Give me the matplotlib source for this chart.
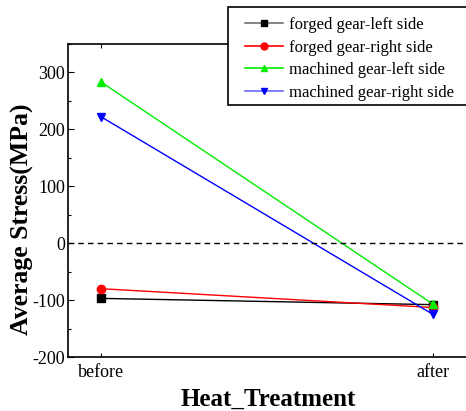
import matplotlib
matplotlib.use("Agg")
import matplotlib.pyplot as plt
from matplotlib.patches import Rectangle
from matplotlib.ticker import MultipleLocator

plt.rcParams['font.family'] = ['Liberation Serif', 'DejaVu Serif']
plt.rcParams['axes.unicode_minus'] = False

# ------------------------
# DATA
# ------------------------
stages = ["before", "after"]
forged_left = [-97, -108]
forged_right = [-80, -113]
machined_left = [283, -107]
machined_right = [222, -125]

series = [
    ("forged gear-left side", forged_left, "black", "#707070", "s"),
    ("forged gear-right side", forged_right, "red", "red", "o"),
    ("machined gear-left side", machined_left, "#00ee00", "#00ee00", "^"),
    ("machined gear-right side", machined_right, "blue", "#6a6aff", "v"),
]

W, H = 466, 411
fig = plt.figure(figsize=(W / 100, H / 100), dpi=100)
ax = fig.add_axes([68 / W, 1 - 357 / H, 1 - 68 / W, (357 - 44) / H])

xs = list(range(len(stages)))
handles = []
for name, vals, col, legcol, mk in series:
    ax.plot(xs, vals, color=col, lw=1, marker=mk, ms=6, mec=col, mfc=col)
    h, = ax.plot([], [], color=legcol, lw=1.2, marker=mk, ms=5, mec=col, mfc=col,
                 label=name)
    handles.append(h)

ax.axhline(0, color="black", lw=1, ls=(0, (4, 3)))

ax.set_xlim(-0.1, 1.1)
ax.set_ylim(-200, 350)
ax.set_xticks(xs)
ax.set_xticklabels(stages)
ax.yaxis.set_major_locator(MultipleLocator(100))
ax.yaxis.set_minor_locator(MultipleLocator(50))
ax.tick_params(axis="both", which="both", direction="in", labelsize=13,
               top=True, width=0.8)
ax.tick_params(axis="y", which="major", length=4, pad=2)
ax.tick_params(axis="y", which="minor", length=2.5)
ax.tick_params(axis="x", length=3, pad=5)
for s in ax.spines.values():
    s.set_linewidth(1.2)
ax.spines["right"].set_visible(False)

ax.set_ylabel("Average Stress(MPa)", fontsize=18.5, fontweight="bold")
ax.yaxis.set_label_coords(-0.086, 0.44)
ax.set_xlabel("Heat_Treatment", fontsize=18, fontweight="bold")
ax.xaxis.set_label_coords(0.5025, -0.097)

# legend box runs off the right edge, as in the original
box = Rectangle((228 / W, 1 - 105 / H), 1.0, 98 / H, transform=fig.transFigure,
                facecolor="white", edgecolor="black", lw=1.2, zorder=4)
fig.patches.append(box)

leg = fig.legend(handles=handles, loc="upper left",
                 bbox_to_anchor=(245 / W, 1 - 17 / H), fontsize=12,
                 frameon=False, handlelength=2.3, handletextpad=0.35,
                 labelspacing=0.4, borderpad=0, borderaxespad=0)
leg.set_zorder(5)

fig.savefig("out.png", dpi=100)
